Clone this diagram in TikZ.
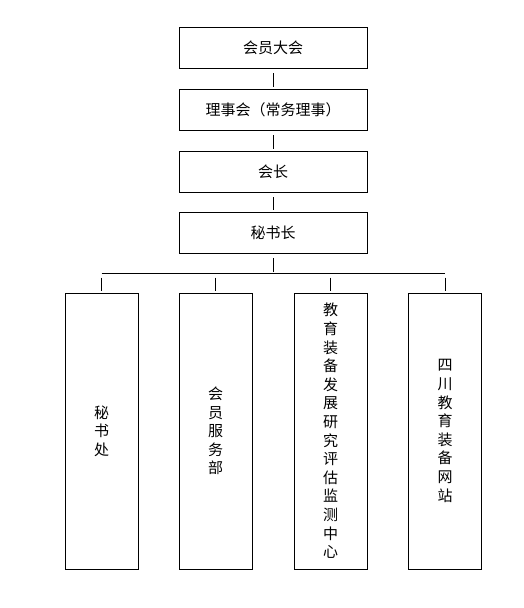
\documentclass[tikz,border=0pt]{standalone}
\usepackage{fontspec}
\newfontfamily\cjk{Noto Sans CJK SC}
\usetikzlibrary{positioning}

\tikzset{
  topbox/.style={draw, line width=1pt, minimum width=188pt, minimum height=41pt,
    inner sep=0pt, font=\cjk\fontsize{15}{18}\selectfont},
  subbox/.style={draw, line width=1pt, minimum width=73pt, minimum height=276pt,
    inner sep=0pt, align=center, font=\cjk\fontsize{15}{18.6}\selectfont},
  link/.style={line width=1pt, shorten <=4.5pt, shorten >=1.5pt}
}

\begin{document}
\begin{tikzpicture}[x=1pt,y=-1pt]
    \useasboundingbox (0,0) rectangle (523,608);
    % chain of leading bodies
    \foreach \n/\yy/\txt in {1/47.5/会员大会, 2/109.5/理事会（常务理事）, 3/171.5/会长, 4/232.5/秘书长} {
        \node[topbox] (top\n) at (273,\yy) {\txt};
    }
    \foreach \n in {1,2,3} {
        \pgfmathtruncatemacro{\m}{\n+1}
        \draw[link] (top\n) -- (top\m);
    }
    % departments
    \foreach \n/\xx/\txt in {1/101.5/{秘\\书\\处},
                             2/215.5/{会\\员\\服\\务\\部},
                             3/330.5/{教\\育\\装\\备\\发\\展\\研\\究\\评\\估\\监\\测\\中\\心},
                             4/445/{四\\川\\教\\育\\装\\备\\网\\站}} {
        \node[subbox] (dep\n) at (\xx,431) {\txt};
    }
    \coordinate (bus) at (273,273);
    \draw[link] (top4) -- (bus);
    \draw[line width=1pt] (dep1 |- bus) -- (dep4 |- bus);
    \foreach \n in {1,...,4} {
        \draw[link] (dep\n |- bus) -- (dep\n);
    }
\end{tikzpicture}
\end{document}
